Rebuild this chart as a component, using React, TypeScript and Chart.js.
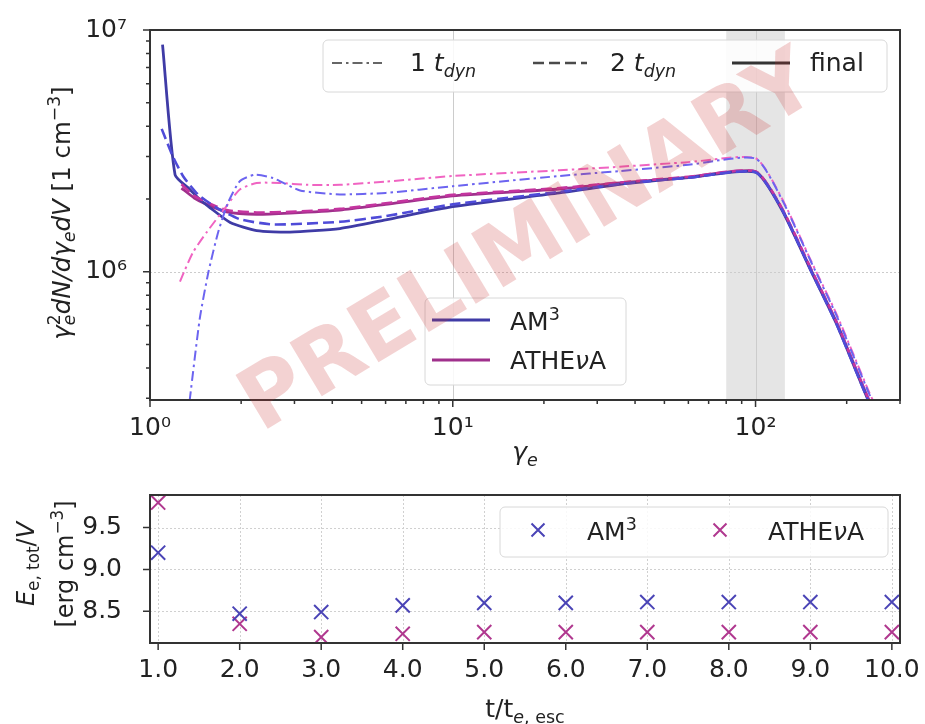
import React, { useEffect, useRef } from 'react';
import { Chart, registerables } from 'chart.js';

Chart.register(...registerables);

const FONT = '"DejaVu Sans", sans-serif';
const TEXT = '#222222';
const SPINE = '#333333';

// ---- Electron spectra, gamma_e^2 dN/dgamma_e dV [cm^-3] ----
// AM3 after 1 t_dyn
const gAm3Dyn1 = [1.33, 1.355, 1.46, 1.56, 1.68, 1.81, 1.98, 2.22, 2.55, 3.13, 4.24, 6, 10, 22.5, 35.6, 60, 100, 122, 153, 185, 238, 260];
const nAm3Dyn1 = [2.4e5, 3.0e5, 6.4e5, 1.0e6, 1.46e6, 1.93e6, 2.37e6, 2.52e6, 2.44e6, 2.17e6, 2.09e6, 2.12e6, 2.26e6, 2.49e6, 2.61e6, 2.77e6, 2.94e6, 2.0e6, 1.09e6, 6.6e5, 3.1e5, 2.45e5];
// ATHEvA after 1 t_dyn
const gAthDyn1 = [1.256, 1.305, 1.39, 1.54, 1.79, 1.98, 2.25, 2.68, 3.29, 4.24, 6, 10, 22.5, 35.6, 60, 100, 122, 153, 185, 238, 260];
const nAthDyn1 = [9.1e5, 1.02e6, 1.21e6, 1.46e6, 1.87e6, 2.19e6, 2.33e6, 2.33e6, 2.29e6, 2.29e6, 2.36e6, 2.49e6, 2.63e6, 2.72e6, 2.84e6, 2.95e6, 2.02e6, 1.1e6, 6.7e5, 3.15e5, 2.5e5];
// AM3 after 2 t_dyn
const gAm3Dyn2 = [1.093, 1.19, 1.288, 1.44, 1.66, 1.98, 2.55, 4.24, 6, 10, 22.5, 35.6, 60, 100, 122, 153, 185, 234, 260];
const nAm3Dyn2 = [3.9e6, 3.0e6, 2.48e6, 2.09e6, 1.84e6, 1.65e6, 1.57e6, 1.61e6, 1.7e6, 1.9e6, 2.14e6, 2.31e6, 2.45e6, 2.58e6, 1.82e6, 1.0e6, 6.1e5, 3.0e5, 2.3e5];
// ATHEvA after 2 t_dyn
const gAthDyn2 = [1.27, 1.4, 1.54, 1.79, 2.25, 2.9, 4.24, 6, 10, 22.5, 35.6, 60, 100, 122, 153, 185, 234, 260];
const nAthDyn2 = [2.3e6, 2.06e6, 1.94e6, 1.8e6, 1.76e6, 1.77e6, 1.82e6, 1.92e6, 2.08e6, 2.22e6, 2.34e6, 2.47e6, 2.6e6, 1.84e6, 1.02e6, 6.2e5, 3.05e5, 2.35e5];
// AM3 final
const gAm3Final = [1.1, 1.21, 1.355, 1.46, 1.58, 1.84, 2.25, 2.9, 4.24, 6, 10, 22.5, 35.6, 60, 100, 122, 153, 185, 234, 260];
const nAm3Final = [8.7e6, 2.52e6, 2.19e6, 1.99e6, 1.84e6, 1.6e6, 1.48e6, 1.46e6, 1.51e6, 1.64e6, 1.86e6, 2.12e6, 2.3e6, 2.45e6, 2.58e6, 1.81e6, 1.0e6, 6.1e5, 3.0e5, 2.3e5];
// ATHEvA final
const gAthFinal = [1.27, 1.4, 1.54, 1.79, 2.25, 2.9, 4.24, 6, 10, 22.5, 35.6, 60, 100, 122, 153, 185, 234, 260];
const nAthFinal = [2.22e6, 2.02e6, 1.9e6, 1.77e6, 1.73e6, 1.75e6, 1.8e6, 1.9e6, 2.06e6, 2.2e6, 2.33e6, 2.46e6, 2.6e6, 1.83e6, 1.01e6, 6.2e5, 3.05e5, 2.35e5];

// shaded gamma band
const BAND = [80, 125];

// axis ticks of the spectrum panel
const X_MAJOR = [1, 10, 100];
const X_MINOR = [2, 3, 4, 5, 6, 7, 8, 9, 20, 30, 40, 50, 60, 70, 80, 90, 200, 300];
const Y_MAJOR = [1e6, 1e7];
const Y_MINOR = [3e5, 4e5, 5e5, 6e5, 7e5, 8e5, 9e5, 2e6, 3e6, 4e6, 5e6, 6e6, 7e6, 8e6, 9e6];
const X_LABELS: Record<number, string> = { 1: '10⁰', 10: '10¹', 100: '10²' };
const Y_LABELS: Record<number, string> = { 1000000: '10⁶', 10000000: '10⁷' };

// ---- Total electron energy density vs time ----
const tEsc = [1, 2, 3, 4, 5, 6, 7, 8, 9, 10];
const eAm3 = [9.2, 8.47, 8.49, 8.57, 8.6, 8.6, 8.61, 8.61, 8.61, 8.61];
const eAth = [9.8, 8.35, 8.19, 8.23, 8.25, 8.25, 8.25, 8.25, 8.25, 8.25];
const T_TICKS = [1, 2, 3, 4, 5, 6, 7, 8, 9, 10];
const E_TICKS = [8.5, 9.0, 9.5];

// colours
const C_AM3_FINAL = '#3f3ba6';
const C_ATH_FINAL = '#a0308c';
const C_AM3_DYN2 = '#4f4bd8';
const C_ATH_DYN2 = '#c4349f';
const C_AM3_DYN1 = '#6c64f0';
const C_ATH_DYN1 = '#f064c2';
const C_AM3_X = '#4a44b6';
const C_ATH_X = '#b0388f';

const DASHDOT = [10, 4, 2.5, 4];
const DASHED = [11, 5];

type Seg = { t: string; it?: boolean; sc?: number; dy?: number; stack?: boolean };

const SUP = (t: string): Seg => ({ t, sc: 0.7, dy: -0.42 });
const SUB = (t: string, it = false): Seg => ({ t, sc: 0.7, dy: 0.22, it });

function fontOf(s: Seg, size: number) {
  return `${s.it ? 'italic ' : ''}${size * (s.sc ?? 1)}px ${FONT}`;
}

// draw a run of text pieces with sub/superscripts; stacked pieces share the previous x
function drawRich(ctx: CanvasRenderingContext2D, segs: Seg[], x: number, y: number, size: number, align = 'left', color = TEXT) {
  const items: { s: Seg; x: number }[] = [];
  let cur = 0;
  let prevStart = 0;
  let prevW = 0;
  for (const s of segs) {
    ctx.font = fontOf(s, size);
    const w = ctx.measureText(s.t).width;
    if (s.stack) {
      items.push({ s, x: prevStart });
      prevW = Math.max(prevW, w);
      cur = prevStart + prevW;
    } else {
      items.push({ s, x: cur });
      prevStart = cur;
      prevW = w;
      cur += w;
    }
  }
  const x0 = align === 'center' ? x - cur / 2 : align === 'right' ? x - cur : x;
  ctx.save();
  ctx.fillStyle = color;
  ctx.textAlign = 'left';
  ctx.textBaseline = 'alphabetic';
  for (const it of items) {
    ctx.font = fontOf(it.s, size);
    ctx.fillText(it.s.t, x0 + it.x, y + (it.s.dy ?? 0) * size);
  }
  ctx.restore();
}

function legendBox(ctx: CanvasRenderingContext2D, x0: number, y0: number, x1: number, y1: number) {
  ctx.save();
  ctx.beginPath();
  ctx.roundRect(x0, y0, x1 - x0, y1 - y0, 5);
  ctx.fillStyle = 'rgba(255,255,255,0.85)';
  ctx.fill();
  ctx.strokeStyle = '#d8d8d8';
  ctx.lineWidth = 1;
  ctx.stroke();
  ctx.restore();
}

function handle(ctx: CanvasRenderingContext2D, x0: number, x1: number, y: number, color: string, width: number, dash: number[]) {
  ctx.save();
  ctx.strokeStyle = color;
  ctx.lineWidth = width;
  ctx.setLineDash(dash);
  ctx.beginPath();
  ctx.moveTo(x0, y);
  ctx.lineTo(x1, y);
  ctx.stroke();
  ctx.restore();
}

function xMarker(ctx: CanvasRenderingContext2D, x: number, y: number, r: number, color: string) {
  ctx.save();
  ctx.strokeStyle = color;
  ctx.lineWidth = 2;
  ctx.beginPath();
  ctx.moveTo(x - r, y - r);
  ctx.lineTo(x + r, y + r);
  ctx.moveTo(x - r, y + r);
  ctx.lineTo(x + r, y - r);
  ctx.stroke();
  ctx.restore();
}

function frameAndTicks(chart: any, xMaj: number[], xMin: number[], yMaj: number[], yMin: number[]) {
  const { ctx, chartArea: a } = chart;
  const xs = chart.scales.x;
  const ys = chart.scales.y;
  ctx.save();
  ctx.strokeStyle = SPINE;
  ctx.lineWidth = 1.5;
  ctx.beginPath();
  for (const v of xMaj) { const p = xs.getPixelForValue(v); ctx.moveTo(p, a.bottom); ctx.lineTo(p, a.bottom + 7); }
  for (const v of xMin) { const p = xs.getPixelForValue(v); ctx.moveTo(p, a.bottom); ctx.lineTo(p, a.bottom + 4); }
  for (const v of yMaj) { const p = ys.getPixelForValue(v); ctx.moveTo(a.left, p); ctx.lineTo(a.left - 7, p); }
  for (const v of yMin) { const p = ys.getPixelForValue(v); ctx.moveTo(a.left, p); ctx.lineTo(a.left - 4, p); }
  ctx.stroke();
  ctx.lineWidth = 2;
  ctx.strokeRect(a.left, a.top, a.right - a.left, a.bottom - a.top);
  ctx.restore();
}

const xy = (xs: number[], ys: number[]) => xs.map((x, i) => ({ x, y: ys[i] }));

const topDecor = {
  id: 'topDecor',
  beforeDatasetsDraw(chart: any) {
    const { ctx, chartArea: a } = chart;
    const xs = chart.scales.x;
    const ys = chart.scales.y;
    ctx.save();
    const b0 = xs.getPixelForValue(BAND[0]);
    const b1 = xs.getPixelForValue(BAND[1]);
    ctx.fillStyle = 'rgba(0,0,0,0.1)';
    ctx.fillRect(b0, a.top, b1 - b0, a.bottom - a.top);
    ctx.strokeStyle = '#cccccc';
    ctx.lineWidth = 1;
    ctx.beginPath();
    for (const v of [10, 100]) {
      const p = Math.round(xs.getPixelForValue(v)) + 0.5;
      ctx.moveTo(p, a.top);
      ctx.lineTo(p, a.bottom);
    }
    ctx.stroke();
    ctx.setLineDash([2, 2]);
    ctx.beginPath();
    const p = Math.round(ys.getPixelForValue(1e6)) + 0.5;
    ctx.moveTo(a.left, p);
    ctx.lineTo(a.right, p);
    ctx.stroke();
    ctx.restore();
  },
  afterDatasetsDraw(chart: any) {
    const { ctx } = chart;
    frameAndTicks(chart, X_MAJOR, X_MINOR, Y_MAJOR, Y_MINOR);

    // time legend
    legendBox(ctx, 323, 40, 887, 92);
    handle(ctx, 332, 382, 63, '#666666', 2, DASHDOT);
    drawRich(ctx, [{ t: '1 ' }, { t: 't', it: true }, SUB('dyn', true)], 410, 71, 25);
    handle(ctx, 533, 587, 63, '#4a4a4a', 2.6, DASHED);
    drawRich(ctx, [{ t: '2 ' }, { t: 't', it: true }, SUB('dyn', true)], 610, 71, 25);
    handle(ctx, 732, 790, 63, '#333333', 2.8, []);
    drawRich(ctx, [{ t: 'final' }], 810, 71, 25);

    // code legend
    legendBox(ctx, 425, 298, 626, 385);
    handle(ctx, 432, 490, 320, C_AM3_FINAL, 2.8, []);
    drawRich(ctx, [{ t: 'AM' }, SUP('3')], 510, 330, 25);
    handle(ctx, 432, 490, 360, C_ATH_FINAL, 2.8, []);
    drawRich(ctx, [{ t: 'ATHE' }, { t: 'ν', it: true }, { t: 'A' }], 510, 369, 25);
  },
  afterDraw(chart: any) {
    const { ctx } = chart;
    // axis titles
    drawRich(ctx, [{ t: 'γ', it: true }, SUB('e', true)], 525, 460, 25, 'center');
    ctx.save();
    ctx.translate(70, 213);
    ctx.rotate(-Math.PI / 2);
    drawRich(ctx, [
      { t: 'γ', it: true }, SUP('2'), { ...SUB('e', true), stack: true },
      { t: 'dN/dγ', it: true }, SUB('e', true), { t: 'dV', it: true },
      { t: ' [1 cm' }, SUP('−3'), { t: ']' },
    ], 0, 0, 24.5, 'center');
    ctx.restore();

    // watermark
    ctx.save();
    ctx.translate(530, 245);
    ctx.rotate(-31 * Math.PI / 180);
    ctx.font = `bold 86px ${FONT}`;
    ctx.fillStyle = 'rgba(200,50,50,0.22)';
    ctx.textAlign = 'center';
    ctx.textBaseline = 'middle';
    ctx.fillText('PRELIMINARY', 0, 0);
    ctx.restore();
  },
};

const bottomDecor = {
  id: 'bottomDecor',
  beforeDatasetsDraw(chart: any) {
    const { ctx, chartArea: a } = chart;
    const xs = chart.scales.x;
    const ys = chart.scales.y;
    ctx.save();
    ctx.strokeStyle = '#d0d0d0';
    ctx.lineWidth = 1;
    ctx.setLineDash([2, 2]);
    ctx.beginPath();
    for (const v of T_TICKS) {
      const p = Math.round(xs.getPixelForValue(v)) + 0.5;
      ctx.moveTo(p, a.top);
      ctx.lineTo(p, a.bottom);
    }
    for (const v of E_TICKS) {
      const p = Math.round(ys.getPixelForValue(v)) + 0.5;
      ctx.moveTo(a.left, p);
      ctx.lineTo(a.right, p);
    }
    ctx.stroke();
    ctx.restore();
  },
  afterDatasetsDraw(chart: any) {
    const { ctx } = chart;
    frameAndTicks(chart, T_TICKS, [], E_TICKS, []);
    legendBox(ctx, 500, 47, 888, 97);
    xMarker(ctx, 538, 70, 6.5, C_AM3_X);
    drawRich(ctx, [{ t: 'AM' }, SUP('3')], 587, 80, 25);
    xMarker(ctx, 720, 70, 6.5, C_ATH_X);
    drawRich(ctx, [{ t: 'ATHE' }, { t: 'ν', it: true }, { t: 'A' }], 768, 80, 25);
  },
  afterDraw(chart: any) {
    const { ctx } = chart;
    drawRich(ctx, [{ t: 't/t' }, SUB('e', true), SUB(', esc')], 525, 257, 25, 'center');
    ctx.save();
    ctx.translate(34, 104);
    ctx.rotate(-Math.PI / 2);
    drawRich(ctx, [{ t: 'E', it: true }, SUB('e, tot'), { t: '/' }, { t: 'V', it: true }], 0, 0, 24, 'center');
    ctx.restore();
    ctx.save();
    ctx.translate(73, 104);
    ctx.rotate(-Math.PI / 2);
    drawRich(ctx, [{ t: '[erg cm' }, SUP('−3'), { t: ']' }], 0, 0, 24, 'center');
    ctx.restore();
  },
};

const tickFont = { family: FONT, size: 25 };

function lineSet(label: string, xs: number[], ys: number[], color: string, width: number, dash: number[]) {
  return {
    label,
    data: xy(xs, ys),
    borderColor: color,
    backgroundColor: color,
    borderWidth: width,
    borderDash: dash,
    pointRadius: 0,
    pointHoverRadius: 0,
    tension: 0.2,
    fill: false,
  };
}

function spectrumConfig(): any {
  return {
    type: 'line',
    data: {
      datasets: [
        lineSet('AM3 1 t_dyn', gAm3Dyn1, nAm3Dyn1, C_AM3_DYN1, 2, DASHDOT),
        lineSet('ATHEvA 1 t_dyn', gAthDyn1, nAthDyn1, C_ATH_DYN1, 2, DASHDOT),
        lineSet('AM3 2 t_dyn', gAm3Dyn2, nAm3Dyn2, C_AM3_DYN2, 2.6, DASHED),
        lineSet('ATHEvA 2 t_dyn', gAthDyn2, nAthDyn2, C_ATH_DYN2, 2.6, DASHED),
        lineSet('AM3 final', gAm3Final, nAm3Final, C_AM3_FINAL, 2.8, []),
        lineSet('ATHEvA final', gAthFinal, nAthFinal, C_ATH_FINAL, 2.8, []),
      ],
    },
    options: {
      animation: false,
      responsive: false,
      events: [],
      layout: { padding: { top: 25, right: 25, left: 0, bottom: 0 } },
      plugins: { legend: { display: false }, tooltip: { enabled: false } },
      scales: {
        x: {
          type: 'logarithmic',
          min: 1,
          max: 300,
          grid: { display: false },
          border: { display: false },
          afterBuildTicks: (s: any) => { s.ticks = X_MAJOR.map((v) => ({ value: v })); },
          afterFit: (s: any) => { s.height = 80; },
          ticks: {
            autoSkip: false,
            maxRotation: 0,
            padding: 5,
            font: tickFont,
            color: TEXT,
            callback: (v: any) => X_LABELS[Math.round(Number(v))] ?? '',
          },
        },
        y: {
          type: 'logarithmic',
          min: 2.95e5,
          max: 1e7,
          grid: { display: false },
          border: { display: false },
          afterBuildTicks: (s: any) => { s.ticks = Y_MAJOR.map((v) => ({ value: v })); },
          afterFit: (s: any) => { s.width = 150; },
          ticks: {
            autoSkip: false,
            padding: 15,
            font: tickFont,
            color: TEXT,
            callback: (v: any) => Y_LABELS[Math.round(Number(v))] ?? '',
          },
        },
      },
    },
    plugins: [topDecor],
  };
}

function energyConfig(): any {
  const pts = (ys: number[], color: string) => ({
    data: xy(tEsc, ys),
    pointStyle: 'crossRot',
    pointRadius: 10,
    pointHoverRadius: 10,
    pointBorderWidth: 2,
    pointBorderColor: color,
    pointBackgroundColor: color,
    borderColor: color,
    backgroundColor: color,
    showLine: false,
  });
  return {
    type: 'scatter',
    data: { datasets: [pts(eAm3, C_AM3_X), pts(eAth, C_ATH_X)] },
    options: {
      animation: false,
      responsive: false,
      events: [],
      layout: { padding: { top: 32, right: 25, left: 0, bottom: 0 } },
      plugins: { legend: { display: false }, tooltip: { enabled: false } },
      scales: {
        x: {
          type: 'linear',
          min: 0.9,
          max: 10.1,
          grid: { display: false },
          border: { display: false },
          afterBuildTicks: (s: any) => { s.ticks = T_TICKS.map((v) => ({ value: v })); },
          afterFit: (s: any) => { s.height = 81; },
          ticks: {
            autoSkip: false,
            maxRotation: 0,
            padding: 4,
            font: tickFont,
            color: TEXT,
            callback: (v: any) => Number(v).toFixed(1),
          },
        },
        y: {
          type: 'linear',
          min: 8.12,
          max: 9.89,
          grid: { display: false },
          border: { display: false },
          afterBuildTicks: (s: any) => { s.ticks = E_TICKS.map((v) => ({ value: v })); },
          afterFit: (s: any) => { s.width = 150; },
          ticks: {
            autoSkip: false,
            padding: 20,
            font: tickFont,
            color: TEXT,
            callback: (v: any) => Number(v).toFixed(1),
          },
        },
      },
    },
    plugins: [bottomDecor],
  };
}

export default function App() {
  const topRef = useRef<HTMLCanvasElement>(null);
  const botRef = useRef<HTMLCanvasElement>(null);

  useEffect(() => {
    const top = new Chart(topRef.current as HTMLCanvasElement, spectrumConfig());
    const bottom = new Chart(botRef.current as HTMLCanvasElement, energyConfig());
    return () => {
      top.destroy();
      bottom.destroy();
    };
  }, []);

  return (
    <div style={{ position: 'fixed', left: 0, top: 0, width: 925, height: 724, background: '#ffffff' }}>
      <canvas ref={topRef} width={925} height={480} style={{ position: 'absolute', left: 0, top: 0, width: 925, height: 480 }} />
      <canvas ref={botRef} width={925} height={264} style={{ position: 'absolute', left: 0, top: 460, width: 925, height: 264 }} />
    </div>
  );
}
